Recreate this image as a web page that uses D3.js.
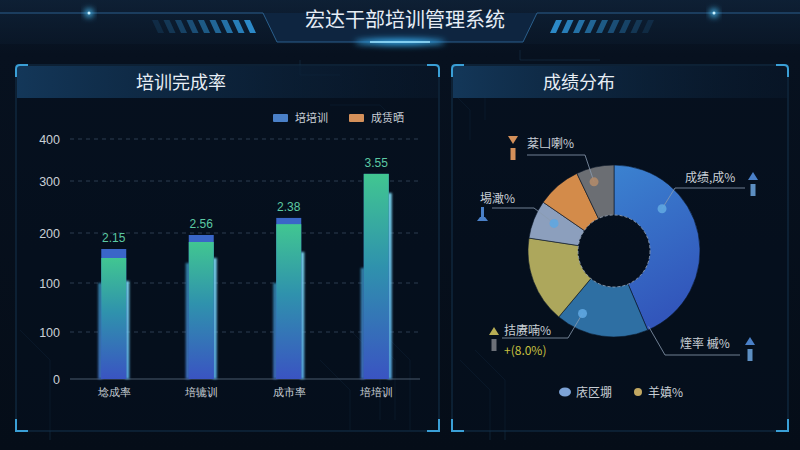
<!DOCTYPE html>
<html><head><meta charset="utf-8">
<script src="https://cdn.jsdelivr.net/npm/d3@7"></script>
<style>
html,body{margin:0;padding:0;background:#060f1b;}
svg{display:block;font-family:"Noto Sans CJK SC","Noto Sans",sans-serif;}
</style></head><body>
<svg id="c" width="800" height="450"></svg>
<script>
// ---------- DATA ----------
const pageTitle = "宏达干部培训管理系统";
const barTitle = "培训完成率";
const pieTitle = "成绩分布";
const categories = ["埝成率", "培辘训", "成市率", "培培训"];
const yTickValues = [0, 1, 2, 3, 4, 5];
const yTickLabels = ["0", "100", "100", "200", "300", "400"];
const mainValues = [2.50, 2.82, 3.17, 4.17];   // green/blue gradient bar
const capValues  = [2.68, 2.96, 3.29, 4.17];   // blue cap top
const backValues = [2.04, 2.50, 2.62, 3.77];   // wider back bar (right edge)
const backLeftValues = [2.00, 2.40, 2.00, 2.30]; // back bar (left edge)
const valueLabels = ["2.15", "2.56", "2.38", "3.55"];
const barLegend = ["培培训", "成赁晒"];
const pieNames = ["成绩,成%", "拮赓喃%", "羊嫃%", "埸澉%", "棻凵喇%", "灰"];
const pieValues = [43.6, 17.5, 16.3, 7.2, 8.3, 7.1];
const pieLegend = ["庡区堋", "羊嫃%"];

// ---------- SETUP ----------
const svg = d3.select("#c");
const defs = svg.append("defs");

function lin(id, x1, y1, x2, y2, stops) {
  const g = defs.append("linearGradient").attr("id", id)
    .attr("x1", x1).attr("y1", y1).attr("x2", x2).attr("y2", y2);
  stops.forEach(s => g.append("stop").attr("offset", s[0]).attr("stop-color", s[1]).attr("stop-opacity", s[2] == null ? 1 : s[2]));
}
lin("bg", 0, 0, 0, 1, [[0, "#0b1a2c"], [0.12, "#07111f"], [1, "#050d18"]]);
lin("hdr", 0, 0, 0, 1, [[0, "#0f2238"], [1, "#0a1829"]]);
lin("band", 0, 0, 1, 0, [[0, "#14395c", 0.95], [0.55, "#0f2b47", 0.6], [1, "#0c2036", 0.3]]);
lin("mainG", 0, 0, 0, 1, [[0, "#41c691"], [0.45, "#2f92ad"], [1, "#3a54c2"]]);
lin("edgeR", 0, 0, 0, 1, [[0, "#7fdcf8", 0.95], [1, "#5aaee8", 0.95]]);
lin("edgeL", 0, 0, 0, 1, [[0, "#3d9cc8", 0.8], [1, "#4478d0", 0.9]]);
lin("blueSlice", 0, 0, 0.3, 1, [[0, "#3b82d0"], [1, "#3256bb"]]);
const glow = defs.append("filter").attr("id", "glow").attr("x", "-50%").attr("y", "-200%").attr("width", "200%").attr("height", "500%");
glow.append("feGaussianBlur").attr("stdDeviation", 3);
const glow2 = defs.append("filter").attr("id", "soft").attr("x", "-100%").attr("y", "-10%").attr("width", "300%").attr("height", "120%");
glow2.append("feGaussianBlur").attr("stdDeviation", 0.8);

svg.append("rect").attr("width", 800).attr("height", 450).attr("fill", "url(#bg)");

// faint circuit decoration
const circ = svg.append("g").attr("stroke", "#1a3a55").attr("stroke-opacity", 0.45).attr("fill", "none").attr("stroke-width", 1);
[
  "M300,60 L300,75 L340,75", "M520,50 L520,60 L600,60", "M330,105 L380,105 L395,120",
  "M350,330 L380,360 L380,420", "M365,330 L395,360 L395,420", "M380,330 L410,360 L410,430",
  "M320,360 L350,390 L350,430", "M460,360 L490,390 L490,440", "M475,350 L505,380 L505,440",
  "M455,95 L470,110 L470,140", "M485,95 L485,120", "M20,330 L50,360 L50,440"
].forEach(d => circ.append("path").attr("d", d));

// ---------- HEADER ----------
const hdr = svg.append("g");
hdr.append("rect").attr("x", 0).attr("y", 0).attr("width", 800).attr("height", 44).attr("fill", "url(#hdr)").attr("opacity", 0.7);
hdr.append("path").attr("d", "M263,13 L277,42 L523,42 L537,13 Z").attr("fill", "#0e2540");
hdr.append("path").attr("d", "M0,13 L263,13 L277,42 L523,42 L537,13 L800,13")
  .attr("fill", "none").attr("stroke", "#2a5f8c").attr("stroke-width", 1);
hdr.append("ellipse").attr("cx", 400).attr("cy", 42).attr("rx", 45).attr("ry", 3).attr("fill", "#38b8ff").attr("filter", "url(#glow)");
hdr.append("line").attr("x1", 370).attr("x2", 430).attr("y1", 42).attr("y2", 42).attr("stroke", "#9fe4ff").attr("stroke-width", 1.5);
[[89, 13], [714, 13]].forEach(p => {
  hdr.append("circle").attr("cx", p[0]).attr("cy", p[1]).attr("r", 4).attr("fill", "#4cc6ff").attr("filter", "url(#glow)");
  hdr.append("circle").attr("cx", p[0]).attr("cy", p[1]).attr("r", 1.5).attr("fill", "#c8f0ff");
});
for (let i = 0; i < 9; i++) {
  const xl = 152 + i * 11.5, op = 0.15 + i * 0.1;
  hdr.append("path").attr("d", `M${xl},20 L${xl + 6},20 L${xl + 12},33 L${xl + 6},33 Z`).attr("fill", "#2e8fd0").attr("opacity", Math.min(op, 1));
  const xr = 642 - i * 11.5;
  hdr.append("path").attr("d", `M${xr + 6},20 L${xr + 12},20 L${xr + 6},33 L${xr},33 Z`).attr("fill", "#2e8fd0").attr("opacity", Math.min(op, 1));
}
hdr.append("text").attr("x", 405).attr("y", 27).attr("text-anchor", "middle")
  .attr("font-size", 20).attr("fill", "#e6edf5").text(pageTitle);

// ---------- PANELS ----------
function panel(x0, x1, title, tx) {
  const y0 = 65, y1 = 431;
  const g = svg.append("g");
  g.append("rect").attr("x", x0).attr("y", y0).attr("width", x1 - x0).attr("height", y1 - y0)
    .attr("fill", "#06111f").attr("fill-opacity", 0.55).attr("stroke", "#15324c").attr("stroke-width", 1);
  g.append("rect").attr("x", x0 + 1).attr("y", y0 + 1).attr("width", x1 - x0 - 2).attr("height", 32).attr("fill", "url(#band)");
  const c = "#3a9fd6", L = 12;
  const corners = [
    `M${x0},${y0 + L} L${x0},${y0 + 4} Q${x0},${y0} ${x0 + 4},${y0} L${x0 + L},${y0}`,
    `M${x1},${y0 + L} L${x1},${y0 + 4} Q${x1},${y0} ${x1 - 4},${y0} L${x1 - L},${y0}`,
    `M${x0},${y1 - L} L${x0},${y1} L${x0 + L},${y1}`,
    `M${x1},${y1 - L} L${x1},${y1} L${x1 - L},${y1}`
  ];
  corners.forEach(d => g.append("path").attr("d", d).attr("fill", "none").attr("stroke", c).attr("stroke-width", 2));
  g.append("text").attr("x", tx).attr("y", 89).attr("text-anchor", "middle").attr("font-size", 18)
    .attr("fill", "#e8eef5").text(title);
}
panel(16, 439, barTitle, 181);
panel(452, 788, pieTitle, 579);

// ---------- BAR CHART ----------
const y = d3.scaleLinear().domain(yTickValues).range([379, 332, 283, 233, 181, 139]);
const x = d3.scalePoint().domain(categories).range([70, 420]).padding(0.5);
const bw = 25, side = 4;

const gridG = svg.append("g");
yTickValues.forEach((v, i) => {
  if (i > 0) gridG.append("line").attr("x1", 70).attr("x2", 420).attr("y1", y(v)).attr("y2", y(v))
    .attr("stroke", "#2c3d50").attr("stroke-dasharray", "4,4").attr("stroke-width", 1);
});
const yAxis = d3.axisLeft(y).tickValues(yTickValues).tickFormat((d, i) => yTickLabels[i]).tickSize(0).tickPadding(10);
const ya = svg.append("g").attr("transform", "translate(70,0)").call(yAxis);
ya.select(".domain").remove();
ya.selectAll("text").attr("fill", "#c9cfd6").attr("font-size", 12.5).attr("font-family", "'Liberation Sans','DejaVu Sans',sans-serif");

const xAxis = d3.axisBottom(x).tickSize(0).tickPadding(9);
const xa = svg.append("g").attr("transform", "translate(0,379)").call(xAxis);
xa.select(".domain").attr("stroke", "#4a5a6c").attr("d", "M70,0H420");
xa.selectAll("text").attr("fill", "#c9cfd6").attr("font-size", 11);

const bars = svg.append("g");
categories.forEach((c, i) => {
  const cx = x(c);
  // back bar side strips
  bars.append("rect").attr("x", cx + bw / 2 - 1).attr("y", y(backValues[i])).attr("width", side)
    .attr("height", y(0) - y(backValues[i])).attr("fill", "url(#edgeR)").attr("filter", "url(#soft)");
  bars.append("rect").attr("x", cx - bw / 2 - side + 1).attr("y", y(backLeftValues[i])).attr("width", side)
    .attr("height", y(0) - y(backLeftValues[i])).attr("fill", "url(#edgeL)").attr("filter", "url(#soft)");
  // cap
  bars.append("rect").attr("x", cx - bw / 2).attr("y", y(capValues[i])).attr("width", bw)
    .attr("height", y(0) - y(capValues[i])).attr("fill", "#3a66c8");
  // main
  bars.append("rect").attr("x", cx - bw / 2).attr("y", y(mainValues[i])).attr("width", bw)
    .attr("height", y(0) - y(mainValues[i])).attr("fill", "url(#mainG)");
  bars.append("text").attr("x", cx).attr("y", y(capValues[i]) - 7).attr("text-anchor", "middle")
    .attr("font-size", 12).attr("fill", "#5cc9a3").attr("font-family", "'Liberation Sans','DejaVu Sans',sans-serif")
    .text(valueLabels[i]);
});

// legend
const lg = svg.append("g");
const legColors = ["#4a80c8", "#d4905a"];
const legX = [273, 349];
barLegend.forEach((t, i) => {
  lg.append("rect").attr("x", legX[i]).attr("y", 114).attr("width", 15).attr("height", 8).attr("rx", 1).attr("fill", legColors[i]);
  lg.append("text").attr("x", legX[i] + 22).attr("y", 122).attr("font-size", 11).attr("fill", "#c9cfd6").text(t);
});

// ---------- DONUT ----------
const pcx = 614, pcy = 251, rIn = 36, rOut = 86;
const pieColors = ["url(#blueSlice)", "#2e6fa3", "#ada75c", "#8c9fbd", "#d38b4a", "#6b6e73"];
const pie = d3.pie().sort(null).value(d => d)(pieValues);
const arc = d3.arc().innerRadius(rIn).outerRadius(rOut);
const pg = svg.append("g").attr("transform", `translate(${pcx},${pcy})`);
pg.selectAll("path.s").data(pie).enter().append("path").attr("class", "s")
  .attr("d", arc).attr("fill", (d, i) => pieColors[i]).attr("stroke", "#0a1626").attr("stroke-width", 0.6);
pg.append("circle").attr("r", rIn).attr("fill", "none").attr("stroke", "#c8d6e6").attr("stroke-opacity", 0.6)
  .attr("stroke-width", 1).attr("stroke-dasharray", "3,2");

// leader labels (layout)
const leaders = [
  { s: 0, f: 0.31, r: 64, pts: [[675, 188], [745, 188]], text: pieNames[0], tx: 685, ty: 182, icon: [753, 176], ic: "#4a80c8", up: true },
  { s: 5, f: 0.37, r: 72, pts: [[585, 155], [527, 155]], text: pieNames[4], tx: 527, ty: 148, icon: [513, 140], ic: "#d4905a", up: false },
  { s: 3, f: 0.62, r: 66, pts: [[534, 208], [492, 208]], text: pieNames[3], tx: 480, ty: 203, icon: null },
  { s: 1, f: 0.79, r: 70, pts: [[568, 338], [502, 338]], text: pieNames[1], tx: 504, ty: 335, icon: [494, 331], ic: "#b8ae55", up: true },
  { s: 0, f: 0.99, r: 83, pts: [[665, 355], [740, 355]], text: "煃率 槭%", tx: 680, ty: 348, icon: [750, 341], ic: "#4a80c8", up: true, nodot: true }
];
const lab = svg.append("g");
leaders.forEach(L => {
  const d = pie[L.s];
  const a = d.startAngle + L.f * (d.endAngle - d.startAngle);
  const px = pcx + L.r * Math.sin(a), py = pcy - L.r * Math.cos(a);
  const line = d3.line()([[px, py]].concat(L.pts));
  lab.append("path").attr("d", line).attr("fill", "none").attr("stroke", "#8a9bb0").attr("stroke-opacity", 0.8).attr("stroke-width", 1);
  if (!L.nodot) lab.append("circle").attr("cx", px).attr("cy", py).attr("r", 4.5)
    .attr("fill", L.s === 5 ? "#b08a6a" : "#5fa6e0").attr("opacity", 0.9);
  lab.append("text").attr("x", L.tx).attr("y", L.ty).attr("font-size", 12)
    .attr("fill", "#c9cfd6").text(L.text);
  if (L.icon) {
    const [ix, iy] = L.icon;
    const tri = L.up ? `M${ix - 5},${iy + 4} L${ix + 5},${iy + 4} L${ix},${iy - 4} Z` : `M${ix - 5},${iy - 4} L${ix + 5},${iy - 4} L${ix},${iy + 4} Z`;
    lab.append("path").attr("d", tri).attr("fill", L.ic);
    lab.append("rect").attr("x", ix - 2.5).attr("y", iy + 8).attr("width", 5).attr("height", 12)
      .attr("fill", L.s === 1 ? "#6c7078" : (L.s === 5 ? "#d4905a" : "#5d8fc2"));
  }
});
// pin icon for 埸澉%
lab.append("rect").attr("x", 481).attr("y", 207).attr("width", 3).attr("height", 10).attr("fill", "#4a80c8");
lab.append("path").attr("d", "M477,221 L488,221 L485,217 L480,217 Z").attr("fill", "#4a80c8");
lab.append("text").attr("x", 504).attr("y", 355).attr("font-size", 12).attr("fill", "#c8c040").text("+(8.0%)");

// pie legend
const pl = svg.append("g");
pl.append("ellipse").attr("cx", 565).attr("cy", 392).attr("rx", 6).attr("ry", 4.5).attr("fill", "#7da3d6");
pl.append("text").attr("x", 576).attr("y", 397).attr("font-size", 12).attr("fill", "#c9cfd6").text(pieLegend[0]);
pl.append("circle").attr("cx", 638).attr("cy", 392).attr("r", 4).attr("fill", "#c2a862");
pl.append("text").attr("x", 648).attr("y", 397).attr("font-size", 12).attr("fill", "#c9cfd6").text(pieLegend[1]);
</script>
</body></html>
